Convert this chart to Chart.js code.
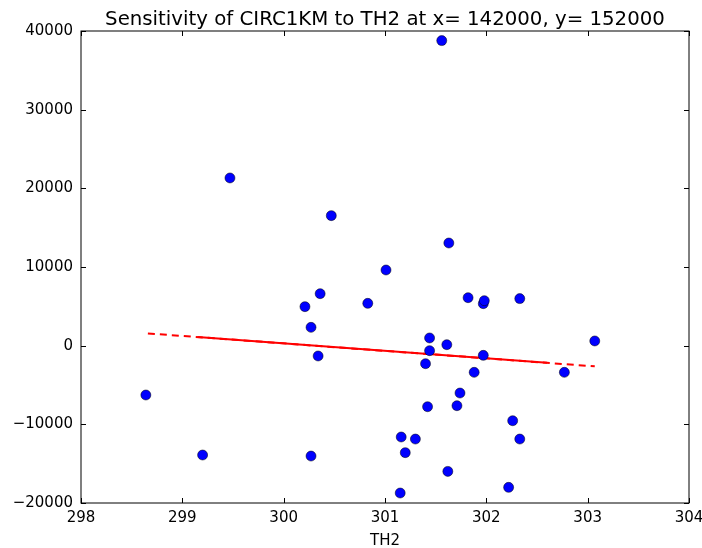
<!DOCTYPE html>
<html>
<head>
<meta charset="utf-8">
<script src="https://cdn.jsdelivr.net/npm/chart.js@4/dist/chart.umd.min.js"></script>
<style>
  body { margin: 0; background: #fff; }
  #grafico { display: block; }
</style>
</head>
<body>
<canvas id="grafico" width="702" height="548"></canvas>
<script>
// valores
const th2 = [298.64, 299.20, 299.47, 300.21, 300.27, 300.27, 300.34, 300.36, 300.47, 300.83,
    301.01, 301.15, 301.16, 301.20, 301.30, 301.40, 301.42, 301.44, 301.44, 301.56,
    301.61, 301.62, 301.63, 301.71, 301.74, 301.82, 301.88, 301.97, 301.98, 301.97,
    302.22, 302.26, 302.33, 302.33, 302.77, 303.07];
const circ1km = [-6270, -13900, 21320, 4960, 2330, -14030, -1310, 6610, 16530, 5380,
    9620, -18730, -11610, -13600, -11870, -2290, -7760, 980, -636, 38780,
    127, -15980, 13050, -7630, -6020, 6100, -3390, 5340, 5720, -1230,
    -18010, -9540, 5980, -11870, -3390, 600];

// recta de ajuste (extremos discontinuos, tramo central solapado)
const ajusteX = [298.66, 303.07];
const ajusteY = [1560, -2630];
const tramoX = [299.15, 302.6];
const tramoY = [1095, -2180];

const ticksX = [298, 299, 300, 301, 302, 303, 304];
const ticksY = [-20000, -10000, 0, 10000, 20000, 30000, 40000];

const titulo = "Sensitivity of CIRC1KM to TH2 at x= 142000, y= 152000";
const fuente = "'DejaVu Sans', sans-serif";

const puntos = th2.map((x, i) => ({ x: x, y: circ1km[i] }));
const ajuste = ajusteX.map((x, i) => ({ x: x, y: ajusteY[i] }));
const tramo = tramoX.map((x, i) => ({ x: x, y: tramoY[i] }));

// marco completo, marcas hacia dentro y titulo centrado sobre el area
const marco = {
    id: "marco",
    afterDraw(chart) {
        const { ctx, chartArea: a, scales } = chart;
        const largo = 5;
        ctx.save();
        ctx.strokeStyle = "#000";
        ctx.lineWidth = 1;
        ctx.strokeRect(a.left, a.top, a.right - a.left, a.bottom - a.top);
        ctx.beginPath();
        ticksX.forEach((v) => {
            const px = Math.round(scales.x.getPixelForValue(v)) + 0.5;
            ctx.moveTo(px, a.bottom); ctx.lineTo(px, a.bottom - largo);
            ctx.moveTo(px, a.top); ctx.lineTo(px, a.top + largo);
        });
        ticksY.forEach((v) => {
            const py = Math.round(scales.y.getPixelForValue(v)) + 0.5;
            ctx.moveTo(a.left, py); ctx.lineTo(a.left + largo, py);
            ctx.moveTo(a.right, py); ctx.lineTo(a.right - largo, py);
        });
        ctx.stroke();

        ctx.fillStyle = "#000";
        ctx.font = "19.75px " + fuente;
        ctx.textAlign = "center";
        ctx.textBaseline = "alphabetic";
        ctx.fillText(titulo, (a.left + a.right) / 2, a.top - 6);
        ctx.restore();
    },
};

const dataGrafico = {
    datasets: [
        {
            type: "scatter",
            label: "CIRC1KM",
            data: puntos,
            backgroundColor: "#0000ff",
            borderColor: "#000",
            borderWidth: 0.5,
            pointRadius: 5,
        },
        {
            type: "line",
            label: "ajuste",
            data: ajuste,
            borderColor: "#ff0000",
            borderWidth: 2,
            borderDash: [7, 5],
            pointRadius: 0,
            fill: false,
        },
        {
            type: "line",
            label: "tramo",
            data: tramo,
            borderColor: "#ff0000",
            borderWidth: 2,
            pointRadius: 0,
            fill: false,
        },
    ],
};

const configGrafico = {
    data: dataGrafico,
    plugins: [marco],
    options: {
        responsive: false,
        animation: false,
        layout: { padding: { left: 0, right: 13, top: 31, bottom: 0 } },
        plugins: {
            legend: { display: false },
            tooltip: { enabled: false },
            title: { display: false },
        },
        scales: {
            x: {
                type: "linear",
                min: 298,
                max: 304,
                afterBuildTicks: (scale) => { scale.ticks = ticksX.map((v) => ({ value: v })); },
                grid: { display: false, drawTicks: false },
                border: { display: false },
                ticks: {
                    color: "#000",
                    padding: 6,
                    maxRotation: 0,
                    font: { family: fuente, size: 15 },
                    callback: (v) => String(v),
                },
                title: {
                    display: true,
                    text: "TH2",
                    color: "#000",
                    font: { family: fuente, size: 15, lineHeight: 0.9 },
                    padding: { top: 0, bottom: 0 },
                },
                afterFit: (scale) => {
                    scale.height = 45;
                    scale.paddingLeft = 0;
                    scale.paddingRight = 0;
                },
            },
            y: {
                type: "linear",
                min: -20000,
                max: 40000,
                afterBuildTicks: (scale) => { scale.ticks = ticksY.map((v) => ({ value: v })); },
                grid: { display: false, drawTicks: false },
                border: { display: false },
                ticks: {
                    color: "#000",
                    padding: 8,
                    font: { family: fuente, size: 15 },
                    callback: (v) => String(v).replace("-", "\u2212"),
                },
                afterFit: (scale) => {
                    scale.width = 81;
                    scale.paddingTop = 0;
                    scale.paddingBottom = 0;
                },
            },
        },
    },
};

const grafico = new Chart(document.getElementById("grafico"), configGrafico);
</script>
</body>
</html>
